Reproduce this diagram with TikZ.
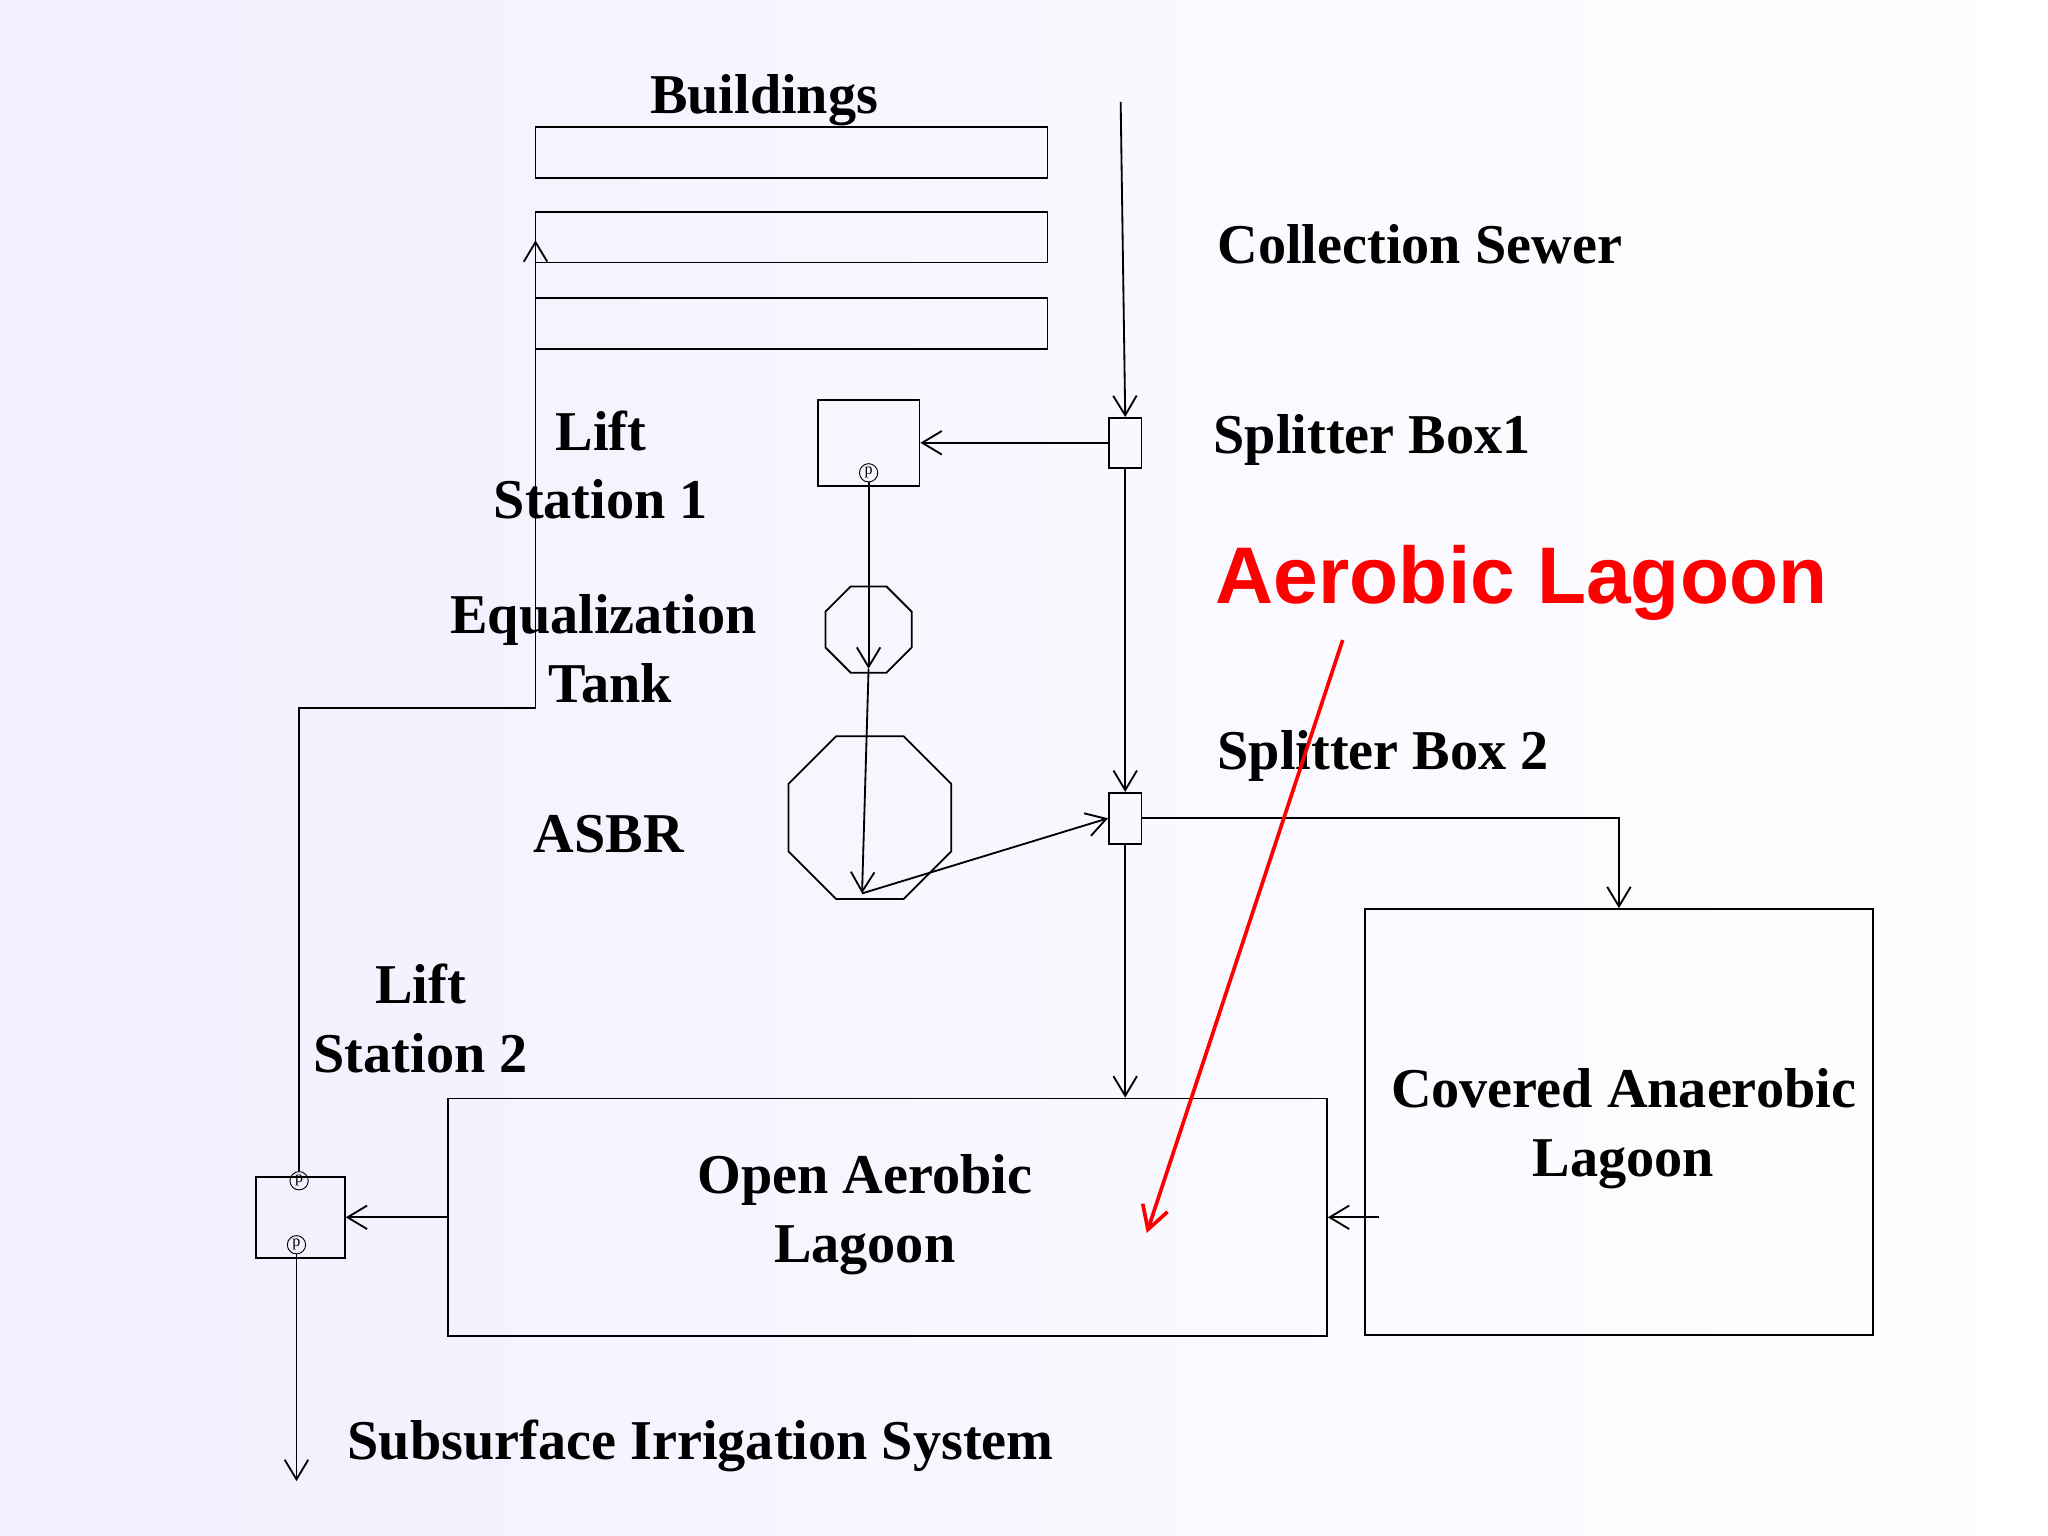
\documentclass[tikz,border=0pt]{standalone}
\usepackage{fontspec}
\setmainfont{Liberation Serif}
\newfontfamily\sansf{Liberation Sans}
\usetikzlibrary{shapes.geometric,arrows.meta}
\begin{document}
\begin{tikzpicture}[x=0.02cm,y=-0.02cm,
  box/.style={draw,thick,inner sep=0,rectangle},
  oct/.style={draw,thick,regular polygon,regular polygon sides=8,inner sep=0},
  pump/.style={draw,circle,inner sep=0,minimum size=0.28cm,font=\fontsize{7}{7}\selectfont},
  lbl/.style={font=\fontsize{24.5}{30}\selectfont\bfseries,align=center},
  flow/.style={thick,-{Straight Barb[length=0.3cm,width=0.36cm]}}]
\fill[left color=blue!6!white,right color=white] (0,0) rectangle (1568,1176);
\useasboundingbox (0,0) rectangle (1568,1176);
\node[box,minimum width=7.84cm,minimum height=0.78cm] (b1) at (606,116.5) {};
\node[box,minimum width=7.84cm,minimum height=0.78cm] (b2) at (606,181.5) {};
\node[box,minimum width=7.84cm,minimum height=0.78cm] (b3) at (606,247.5) {};
\node[lbl] (tb) at (585,77) {Buildings};
\coordinate (cs) at (858,78);
\node[box,minimum width=0.5cm,minimum height=0.76cm] (s1) at (861.5,339) {};
\node[box,minimum width=1.56cm,minimum height=1.32cm] (ls1) at (665,339) {};
\node[pump] (p1) at (665,362) {p};
\node[oct,minimum size=1.43cm] (eq) at (665,482) {};
\node[oct,minimum size=2.7cm] (asbr) at (666,626) {};
\node[box,minimum width=0.5cm,minimum height=0.78cm] (s2) at (861.5,626.5) {};
\node[box,minimum width=7.78cm,minimum height=6.52cm] (cal) at (1239.5,859) {};
\node[box,minimum width=13.46cm,minimum height=3.64cm] (oal) at (679.5,932) {};
\node[box,minimum width=1.36cm,minimum height=1.24cm] (ls2) at (230,932) {};
\node[pump] (p2) at (229,904) {p};
\node[pump] (p3) at (227,953) {p};
\coordinate (eqb) at (665,512);
\coordinate (asb) at (660,684);
\coordinate (irr) at (227,1134);
% texts
\node[lbl,anchor=west] at (926,187) {Collection Sewer};
\node[lbl,anchor=west] at (923,337) {Splitter Box1};
\node[lbl,anchor=west] at (926,579) {Splitter Box 2};
\node[lbl] at (460,356) {Lift\\Station 1};
\node[lbl] at (462,497) {Equalization\\\ Tank};
\node[lbl] at (466,639) {ASBR};
\node[lbl] at (322,780) {Lift\\Station 2};
\node[lbl] at (662,930) {Open Aerobic\\Lagoon};
\node[lbl] at (1243,864) {Covered Anaerobic\\Lagoon};
\node[lbl,anchor=west] at (260,1107) {Subsurface Irrigation System};
% flows
\draw[flow] (cs) -- (s1.north);
\draw[flow] (s1.west) -- (ls1.east);
\draw[flow] (p1.south) -- (eqb);
\draw[flow] (eqb) -- (asb);
\draw[flow] (asb) -- (s2.west);
\draw[flow] (s1.south) -- (s2.north);
\draw[flow] (s2.east) -| (cal.north);
\draw[flow] (s2.south) -- (oal.north -| s2.south);
\draw[flow] (1056,932) -- (cal.west |- oal.east) -- (oal.east);
\draw[flow] (oal.west) -- (ls2.east);
\draw[flow] (p2.north) -- (229,542) -- (410,542) -- (410,184);
\draw[flow] (p3.south) -- (irr);
\node[font=\sansf\fontsize{35}{40}\selectfont\bfseries,text=red] (al) at (1165,446) {Aerobic Lagoon};
\draw[red,line width=1.6pt,-{Straight Barb[length=0.35cm,width=0.4cm]}] (1028,490) -- (878,944);
\end{tikzpicture}
\end{document}
